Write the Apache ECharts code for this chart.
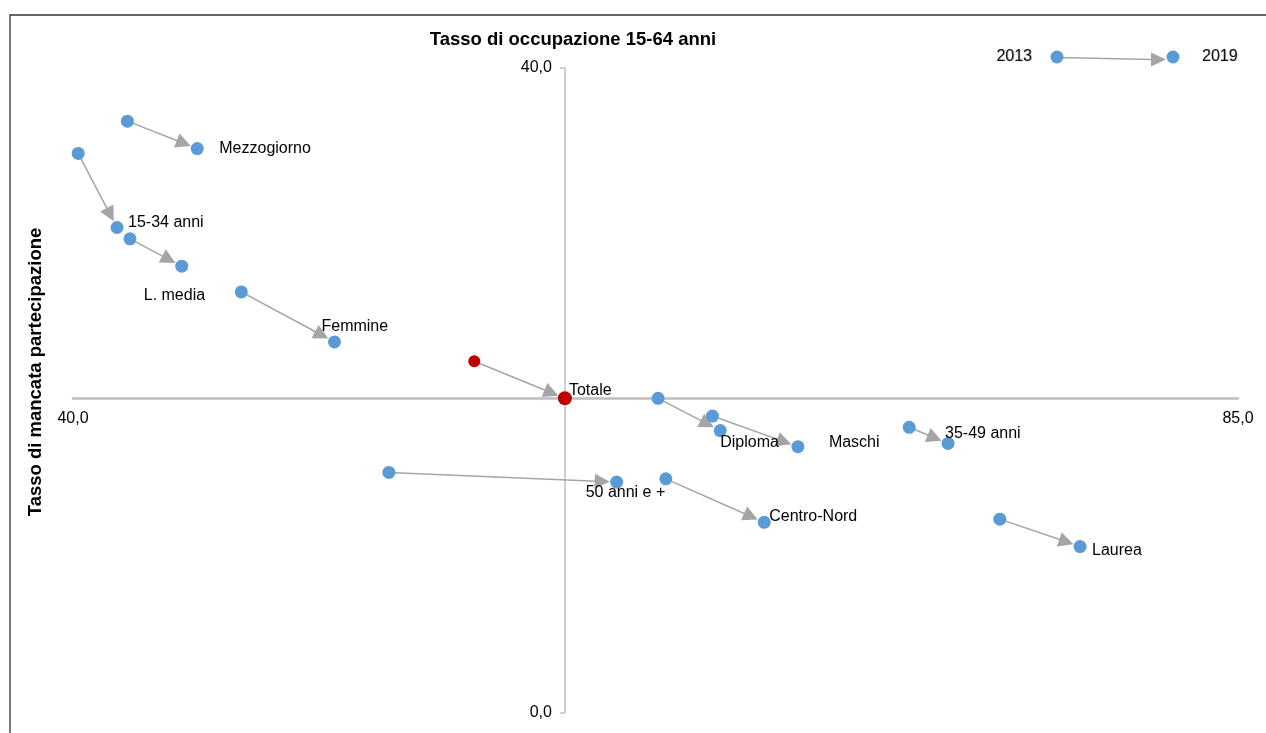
<!DOCTYPE html>
<html><head><meta charset="utf-8">
<script src="https://cdn.jsdelivr.net/npm/echarts/dist/echarts.min.js"></script>
<style>html,body{margin:0;padding:0;background:#fff}#c{width:1266px;height:733px}</style>
</head><body><div id="c"></div>
<script>
// ---- Data ----
const categories = ['Mezzogiorno','15-34 anni','L. media','Femmine','Totale','Diploma','Maschi','35-49 anni','50 anni e +','Centro-Nord','Laurea'];
const occ2013  = [42.1, 40.2, 42.2, 46.5, 55.5, 62.6, 64.7, 72.3, 52.2, 62.9, 75.8]; // Tasso di occupazione 15-64, 2013
const occ2019  = [44.8, 41.7, 44.2, 50.1, 59.0, 65.0, 68.0, 73.8, 61.0, 66.7, 78.9]; // 2019
const manc2013 = [36.7, 34.7, 29.4, 26.1, 21.8, 19.5, 18.4, 17.7, 14.9, 14.5, 12.0]; // Tasso di mancata partecipazione, 2013
const manc2019 = [35.0, 30.1, 27.7, 23.0, 19.5, 17.5, 16.5, 16.7, 14.3, 11.8, 10.3]; // 2019
const xTicks = [40, 85];
const yTicks = [0, 40];
const years = ['2013', '2019'];
const highlight = 'Totale';

// ---- Layout / style (not data) ----
const labelOffsets = {
  'Mezzogiorno':[22,0], '15-34 anni':[11,-5], 'L. media':[-38,29], 'Femmine':[-13,-15],
  'Totale':[4,-8], 'Diploma':[0,12], 'Maschi':[31,-4], '35-49 anni':[-3,-10],
  '50 anni e +':[-31,11], 'Centro-Nord':[5,-6], 'Laurea':[12,4]
};
const FONT = 'Liberation Sans, Arial, sans-serif';
const BLUE = '#5B9BD5', RED = '#C00000', ARROW = '#A5A5A5', AXIS = '#BFBFBF';
const W = 1266, H = 733;
const GRID = {left:73, right:28, top:68, bottom:20.5};
const gridW = W - GRID.left - GRID.right;
const gridH = H - GRID.top - GRID.bottom;
const xMin = xTicks[0], xMax = xTicks[xTicks.length-1];
const yMin = yTicks[0], yMax = yTicks[yTicks.length-1];
const ti = categories.indexOf(highlight);
const crossX = occ2019[ti], crossY = manc2019[ti];
const xAxisOffset = -gridH * (crossY - yMin) / (yMax - yMin);
const yAxisOffset = -gridW * (crossX - xMin) / (xMax - xMin);
const fmt = v => v.toFixed(1).replace('.', ',');

const arrowData = categories.map((c,i) => [occ2013[i], manc2013[i], occ2019[i], manc2019[i]]);
const pts2013 = categories.map((c,i) => ({name:c, value:[occ2013[i], manc2013[i]],
  symbolSize: c===highlight ? 12 : 13,
  itemStyle:{color: c===highlight ? RED : BLUE, opacity:1}}));
const pts2019 = categories.map((c,i) => ({name:c, value:[occ2019[i], manc2019[i]],
  symbolSize: c===highlight ? 14 : 13,
  itemStyle:{color: c===highlight ? RED : BLUE, opacity:1},
  label:{offset: labelOffsets[c], color:'#000'}}));

function arrowRender(params, api){
  const p1 = api.coord([api.value(0), api.value(1)]);
  const p2 = api.coord([api.value(2), api.value(3)]);
  const dx = p2[0]-p1[0], dy = p2[1]-p1[1];
  const L = Math.hypot(dx, dy) || 1;
  const ux = dx/L, uy = dy/L, nx = -uy, ny = ux;
  const gap = 7, headL = 15, headW = 7.5;
  const tip = [p2[0]-ux*gap, p2[1]-uy*gap];
  const base = [tip[0]-ux*headL, tip[1]-uy*headL];
  return {type:'group', children:[
    {type:'line', shape:{x1:p1[0], y1:p1[1], x2:base[0]+ux*2, y2:base[1]+uy*2}, style:{stroke:ARROW, lineWidth:1.5}},
    {type:'polygon', shape:{points:[tip, [base[0]+nx*headW, base[1]+ny*headW], [base[0]-nx*headW, base[1]-ny*headW]]}, style:{fill:ARROW}}
  ]};
}

const chart = echarts.init(document.getElementById('c'), null, {renderer:'canvas', width:W, height:H});
chart.setOption({
  animation:false,
  backgroundColor:'#fff',
  textStyle:{fontFamily:FONT},
  grid:{left:GRID.left, right:GRID.right, top:GRID.top, bottom:GRID.bottom, containLabel:false},
  xAxis:{type:'value', min:xMin, max:xMax, interval:xMax-xMin, position:'bottom', offset:xAxisOffset,
    axisLine:{show:true, onZero:false, lineStyle:{color:AXIS, width:2.5}},
    axisTick:{show:false}, splitLine:{show:false},
    axisLabel:{formatter:fmt, color:'#000', fontSize:16, fontFamily:FONT, margin:12}},
  yAxis:{type:'value', min:yMin, max:yMax, interval:yMax-yMin, position:'left', offset:yAxisOffset,
    axisLine:{show:true, onZero:false, lineStyle:{color:AXIS, width:1.5}},
    axisTick:{show:true, length:5, lineStyle:{color:AXIS, width:1.5}}, splitLine:{show:false},
    axisLabel:{formatter:fmt, color:'#000', fontSize:16, fontFamily:FONT, margin:13}},
  series:[
    {type:'custom', name:'arrows', renderItem:arrowRender, data:arrowData, encode:{x:[0,2], y:[1,3]}, z:2, silent:true},
    {type:'scatter', name:years[0], data:pts2013, z:3, symbol:'circle', itemStyle:{opacity:1}},
    {type:'scatter', name:years[1], data:pts2019, z:4, symbol:'circle', itemStyle:{opacity:1},
      label:{show:true, position:'inside', align:'left', verticalAlign:'middle', formatter:'{b}', color:'#000', fontSize:16, fontFamily:FONT}}
  ],
  graphic:[
    {type:'rect', shape:{x:10, y:15, width:1400, height:900}, style:{fill:null, stroke:'#333', lineWidth:1.3}, z:0, silent:true},
    {type:'text', x:573, y:40, style:{text:'Tasso di occupazione 15-64 anni', font:'bold 18.5px '+FONT, fill:'#000', align:'center', verticalAlign:'middle'}},
    {type:'text', x:36, y:372, rotation:Math.PI/2, style:{text:'Tasso di mancata partecipazione', font:'bold 18.5px '+FONT, fill:'#000', align:'center', verticalAlign:'middle'}},
    // legend
    {type:'text', x:1032, y:57, style:{text:years[0], font:'16px '+FONT, fill:'#111', align:'right', verticalAlign:'middle', textShadowColor:'rgba(0,0,0,0.35)', textShadowBlur:1, textShadowOffsetX:0.6}},
    {type:'line', shape:{x1:1057, y1:57.5, x2:1152, y2:59.5}, style:{stroke:ARROW, lineWidth:1.5}},
    {type:'polygon', shape:{points:[[1166,59.5],[1151,52.5],[1151,66.5]]}, style:{fill:ARROW}},
    {type:'circle', shape:{cx:1057, cy:57, r:6.5}, style:{fill:BLUE}},
    {type:'circle', shape:{cx:1173, cy:57, r:6.5}, style:{fill:BLUE}},
    {type:'text', x:1202, y:57, style:{text:years[1], font:'16px '+FONT, fill:'#111', align:'left', verticalAlign:'middle', textShadowColor:'rgba(0,0,0,0.35)', textShadowBlur:1, textShadowOffsetX:0.6}}
  ]
});
</script></body></html>
